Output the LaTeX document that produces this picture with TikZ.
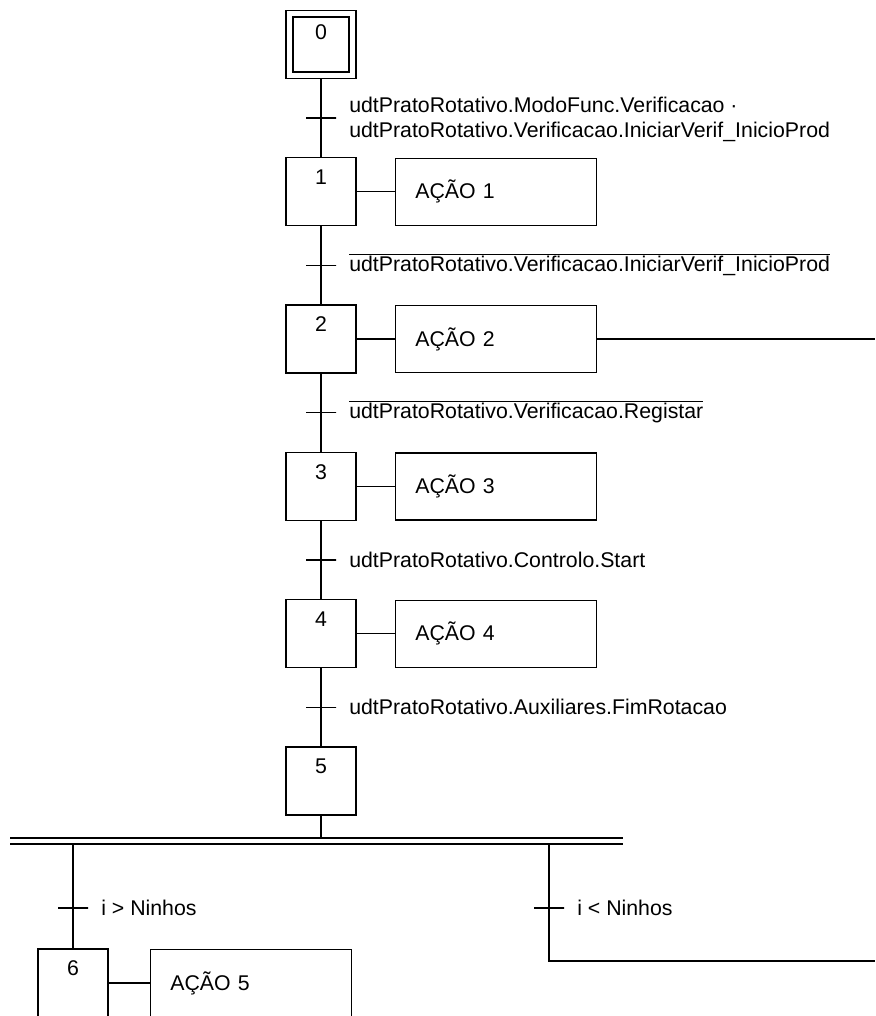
\documentclass[tikz,border=0pt]{standalone}
\usepackage{fontspec}
\setmainfont{Liberation Sans}
\usetikzlibrary{positioning, calc}

\begin{document}
\begin{tikzpicture}[
  x=1pt, y=1pt,
  line width=1.3pt,
  font=\fontsize{21.3}{25}\selectfont,
  node distance = 78pt and 38pt,
  stepbox/.style = {draw, minimum width=70pt, minimum height=68pt, inner sep=0pt},
  num/.style     = {anchor=north, inner sep=0pt, yshift=-12pt},
  action/.style  = {draw, minimum height=67pt, text width=161pt, inner xsep=20pt,
                    inner ysep=0pt, align=left},
  trans/.style   = {draw, minimum width=30pt, minimum height=0pt, inner sep=0pt},
  cond/.style    = {anchor=west, inner sep=0pt, xshift=12pt, align=left}
]
\useasboundingbox (0,0) rectangle (875,-1016);

% ── Steps ────────────────────────────────────────────────────────────────────
\node[stepbox, label={[num, yshift=-2pt]north:0}] (s0) at (321,-44.5) {};
\node[draw, minimum width=56pt, minimum height=55pt] (s0in) at (s0) {};
\node[stepbox, below=of s0, label={[num]north:1}] (s1) {};
\node[stepbox, below=of s1, label={[num]north:2}] (s2) {};
\node[stepbox, below=of s2, label={[num]north:3}] (s3) {};
\node[stepbox, below=of s3, label={[num]north:4}] (s4) {};
\node[stepbox, below=of s4, label={[num]north:5}] (s5) {};
\node[stepbox, label={[num]north:6}] (s6) at (73,-983) {};

% ── Actions ──────────────────────────────────────────────────────────────────
\node[action, right=of s1] (a1) {AÇÃO 1};
\node[action, right=of s2] (a2) {AÇÃO 2};
\node[action, right=of s3] (a3) {AÇÃO 3};
\node[action, right=of s4] (a4) {AÇÃO 4};
\node[action, right=41pt of s6] (a5) {AÇÃO 5};

% ── Transitions ──────────────────────────────────────────────────────────────
\node[trans] (t1) at ($(s0.south)!0.5!(s1.north)$) {};
\node[trans] (t2) at ($(s1.south)!0.5!(s2.north)$) {};
\node[trans] (t3) at ($(s2.south)!0.5!(s3.north)$) {};
\node[trans] (t4) at ($(s3.south)!0.5!(s4.north)$) {};
\node[trans] (t5) at ($(s4.south)!0.5!(s5.north)$) {};
\node[trans] (t6) at (73,-908) {};
\node[trans] (t7) at (549,-908) {};

\node[cond, yshift=-1pt] (c1) at (t1.east)
  {udtPratoRotativo.ModoFunc.Verificacao ·\\
   udtPratoRotativo.Verificacao.IniciarVerif\_InicioProd};
\node[cond, yshift=1pt] (c2) at (t2.east)
  {$\overline{\mbox{udtPratoRotativo.Verificacao.IniciarVerif\_InicioProd}}$};
\node[cond, yshift=1pt] (c3) at (t3.east)
  {$\overline{\mbox{udtPratoRotativo.Verificacao.Registar}}$};
\node[cond] (c4) at (t4.east) {udtPratoRotativo.Controlo.Start};
\node[cond] (c5) at (t5.east) {udtPratoRotativo.Auxiliares.FimRotacao};
\node[cond] (c6) at (t6.east) {i > Ninhos};
\node[cond] (c7) at (t7.east) {i < Ninhos};

% ── Links ────────────────────────────────────────────────────────────────────
\coordinate (divL)  at (10,-841);
\coordinate (divR)  at (623,-841);
\coordinate (brL)   at (73,-841);
\coordinate (brR)   at (549,-841);
\coordinate (loopR) at (549,-961);
\coordinate (edgeR) at (875,-961);
\coordinate (o2)    at (a2.east -| edgeR);

\draw (s0) -- (s1);
\draw (s1) -- (s2);
\draw (s2) -- (s3);
\draw (s3) -- (s4);
\draw (s4) -- (s5);
\foreach \i in {1,...,4} \draw (s\i) -- (a\i);
\draw (s6) -- (a5);
\draw (a2) -- (o2);

% ── Divergence ───────────────────────────────────────────────────────────────
\draw (s5) -- (s5 |- divL);
\draw (brL) -- (s6);
\draw (brR) -- (loopR) -- (edgeR);
\draw[double, double distance=4.6pt] (divL) -- (divR);

\end{tikzpicture}
\end{document}
